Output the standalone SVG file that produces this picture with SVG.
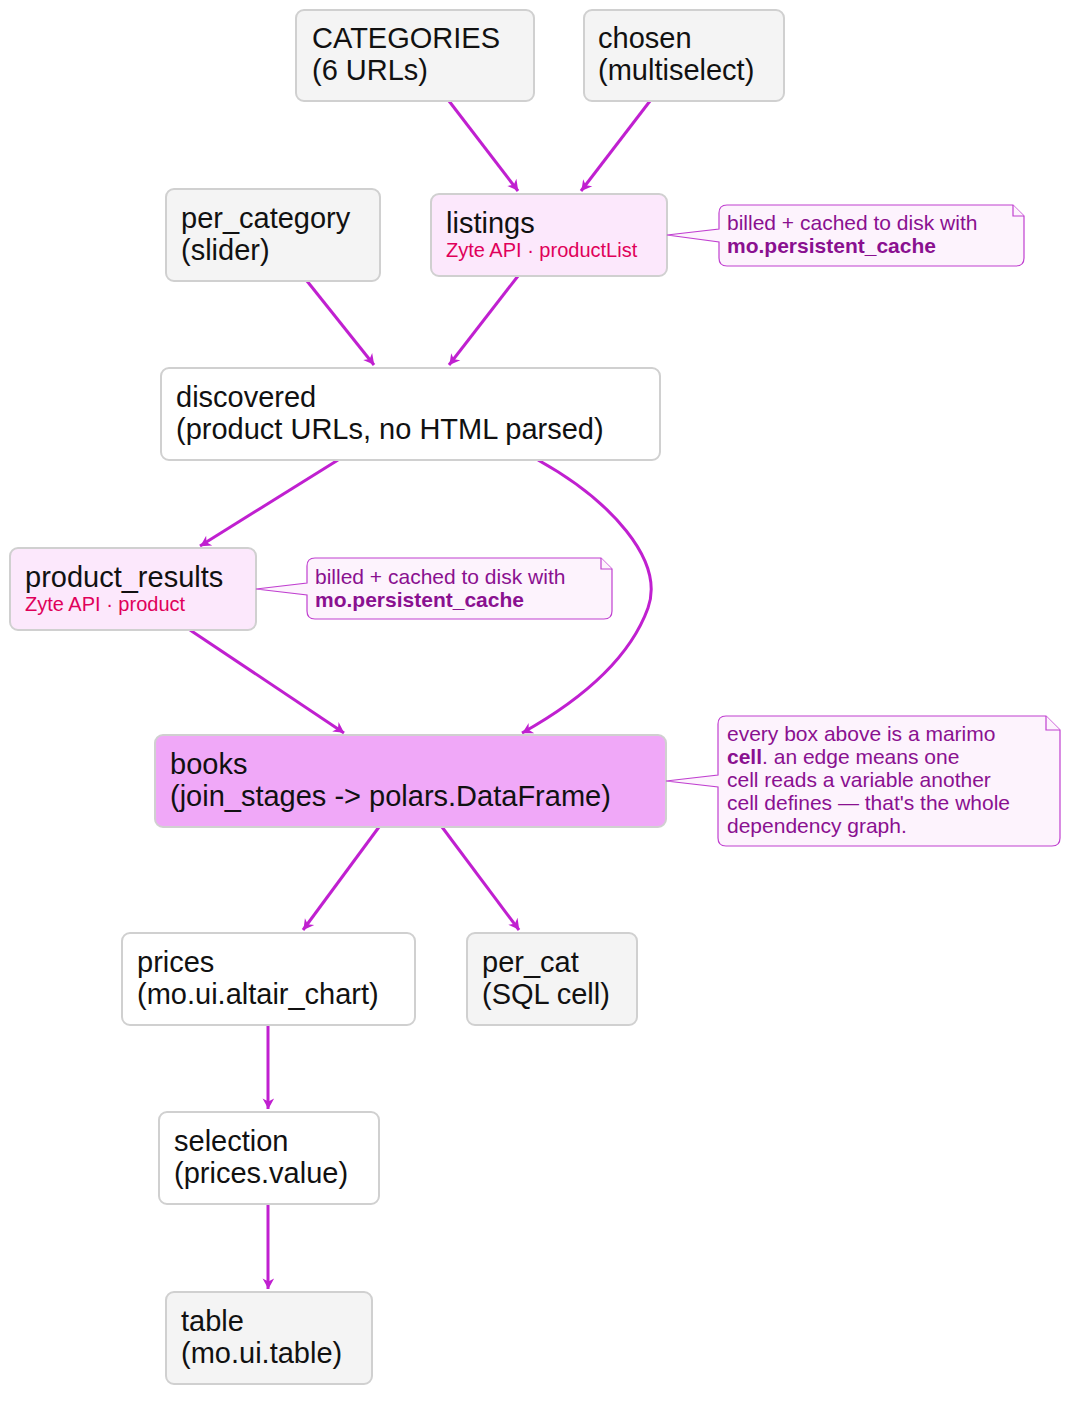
<svg xmlns="http://www.w3.org/2000/svg" width="1080" height="1403" viewBox="0 0 1080 1403">
<style>
.n{stroke:#d0d0d0;stroke-width:2}
.g{fill:#f4f4f4}.w{fill:#fff}.p{fill:#fce8fc}.b{fill:#f0a8f8}
.t{font-family:"Liberation Sans",Arial,sans-serif;font-size:29px;fill:#111}
.s{font-family:"Liberation Sans",Arial,sans-serif;font-size:20px;fill:#e0005a}
.nt{fill:#fdf3fd;stroke:#c040d0;stroke-width:1.2}
.ntt{font-family:"Liberation Sans",Arial,sans-serif;font-size:21px;fill:#8a1090}
.e{fill:none;stroke:#c020d0;stroke-width:3}
</style>
<defs>
<marker id="a" viewBox="0 0 12 12" refX="11" refY="6" markerWidth="7" markerHeight="7" markerUnits="userSpaceOnUse" orient="auto" style="overflow:visible">
<path d="M-8,-5 L12,6 L-8,17 L-2,6 z" fill="#c020d0" transform="scale(0.9)"/>
</marker>
</defs>
<g id="edges">
<path class="e" d="M449,101 L518,191" marker-end="url(#a)"/>
<path class="e" d="M650,101 L581,191" marker-end="url(#a)"/>
<path class="e" d="M307,281 L374,365" marker-end="url(#a)"/>
<path class="e" d="M518,276 L449,365" marker-end="url(#a)"/>
<path class="e" d="M338,460 L200,546" marker-end="url(#a)"/>
<path class="e" d="M538,460 C610,500 665,560 648,608 C632,652 590,695 522,733" marker-end="url(#a)"/>
<path class="e" d="M190,630 L344,733" marker-end="url(#a)"/>
<path class="e" d="M379,827 L303,930" marker-end="url(#a)"/>
<path class="e" d="M442,827 L519,930" marker-end="url(#a)"/>
<path class="e" d="M268,1025 L268,1109" marker-end="url(#a)"/>
<path class="e" d="M268,1204 L268,1289" marker-end="url(#a)"/>
</g>
<g id="CATEGORIES"><rect class="n g" x="296" y="10" width="238" height="91" rx="8"/><text class="t" x="312" y="48">CATEGORIES</text><text class="t" x="312" y="80">(6 URLs)</text></g>
<g id="chosen"><rect class="n g" x="584" y="10" width="200" height="91" rx="8"/><text class="t" x="598" y="48">chosen</text><text class="t" x="598" y="80">(multiselect)</text></g>
<g id="per_category"><rect class="n g" x="166" y="189" width="214" height="92" rx="8"/><text class="t" x="181" y="228">per_category</text><text class="t" x="181" y="260">(slider)</text></g>
<g id="listings"><rect class="n p" x="431" y="194" width="236" height="82" rx="8"/><text class="t" x="446" y="233">listings</text><text class="s" x="446" y="257">Zyte API · productList</text></g>
<g id="note1"><path class="nt" d="M727,205 H1013 L1024,216 V258 Q1024,266 1016,266 H727 Q719,266 719,258 V242 L667,235 L719,229 V213 Q719,205 727,205 Z"/><path class="nt" d="M1013,205 V216 H1024" fill="none"/><text class="ntt" x="727" y="230">billed + cached to disk with</text><text class="ntt" x="727" y="253" font-weight="bold">mo.persistent_cache</text></g>
<g id="discovered"><rect class="n w" x="161" y="368" width="499" height="92" rx="8"/><text class="t" x="176" y="407">discovered</text><text class="t" x="176" y="439">(product URLs, no HTML parsed)</text></g>
<g id="product_results"><rect class="n p" x="10" y="548" width="246" height="82" rx="8"/><text class="t" x="25" y="587">product_results</text><text class="s" x="25" y="611">Zyte API · product</text></g>
<g id="note2"><path class="nt" d="M315,558 H601 L612,569 V611 Q612,619 604,619 H315 Q307,619 307,611 V595 L256,589 L307,583 V566 Q307,558 315,558 Z"/><path class="nt" d="M601,558 V569 H612" fill="none"/><text class="ntt" x="315" y="584">billed + cached to disk with</text><text class="ntt" x="315" y="607" font-weight="bold">mo.persistent_cache</text></g>
<g id="books"><rect class="n b" x="155" y="735" width="511" height="92" rx="8"/><text class="t" x="170" y="774">books</text><text class="t" x="170" y="806">(join_stages -&gt; polars.DataFrame)</text></g>
<g id="note3"><path class="nt" d="M726,716 H1046 L1060,730 V838 Q1060,846 1052,846 H726 Q718,846 718,838 V787 L666,781 L718,775 V724 Q718,716 726,716 Z"/><path class="nt" d="M1046,716 V730 H1060" fill="none"/><text class="ntt" x="727" y="741">every box above is a marimo</text><text class="ntt" x="727" y="764"><tspan font-weight="bold">cell</tspan>. an edge means one</text><text class="ntt" x="727" y="787">cell reads a variable another</text><text class="ntt" x="727" y="810">cell defines — that's the whole</text><text class="ntt" x="727" y="833">dependency graph.</text></g>
<g id="prices"><rect class="n w" x="122" y="933" width="293" height="92" rx="8"/><text class="t" x="137" y="972">prices</text><text class="t" x="137" y="1004">(mo.ui.altair_chart)</text></g>
<g id="per_cat"><rect class="n g" x="467" y="933" width="170" height="92" rx="8"/><text class="t" x="482" y="972">per_cat</text><text class="t" x="482" y="1004">(SQL cell)</text></g>
<g id="selection"><rect class="n w" x="159" y="1112" width="220" height="92" rx="8"/><text class="t" x="174" y="1151">selection</text><text class="t" x="174" y="1183">(prices.value)</text></g>
<g id="table"><rect class="n g" x="166" y="1292" width="206" height="92" rx="8"/><text class="t" x="181" y="1331">table</text><text class="t" x="181" y="1363">(mo.ui.table)</text></g>
</svg>
